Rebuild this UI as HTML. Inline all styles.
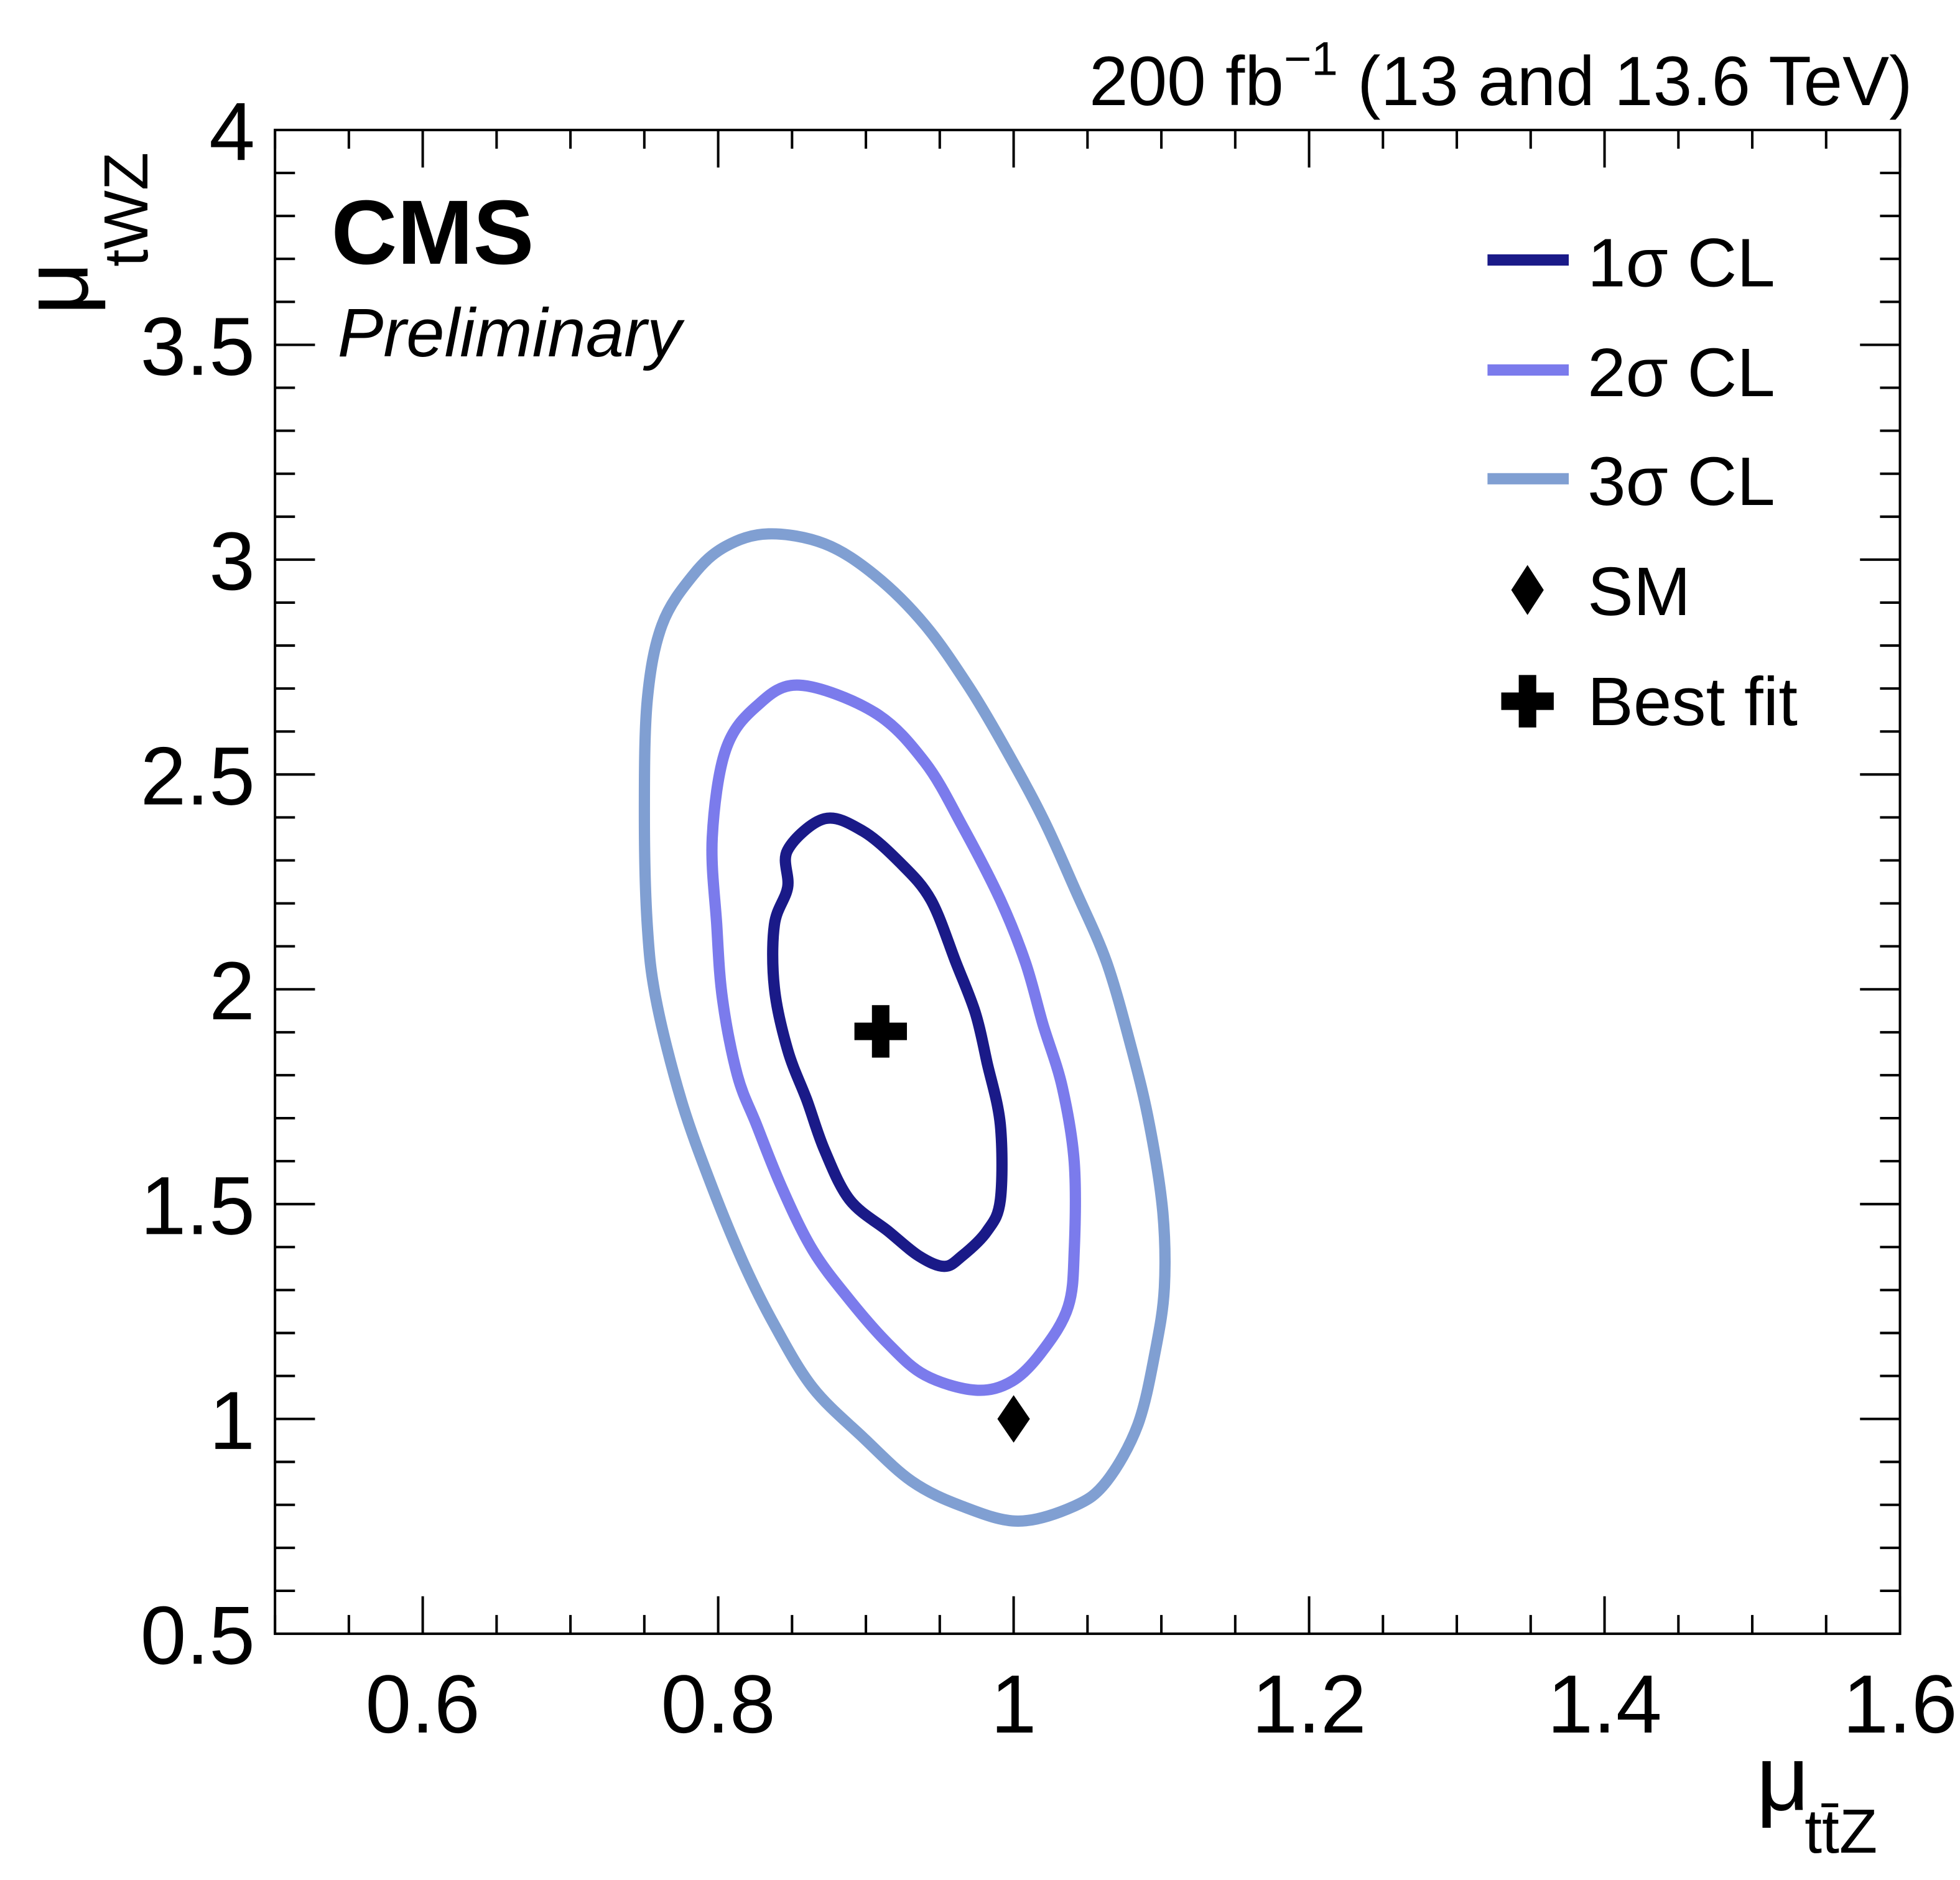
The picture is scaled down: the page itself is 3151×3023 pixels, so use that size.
<!DOCTYPE html>
<html><head><meta charset="utf-8"><style>
html,body{margin:0;padding:0;background:#fff}
svg{display:block;font-family:"Liberation Sans",sans-serif}
</style></head><body>
<svg id="chart" xmlns="http://www.w3.org/2000/svg" width="3151" height="3023" viewBox="0 0 1568 1504" preserveAspectRatio="none">
<rect x="0" y="0" width="1568" height="1504" fill="#fff"/>
<g id="ticks"></g>
<g id="contours"></g>
<rect x="220" y="104" width="1300" height="1203" fill="none" stroke="#000" stroke-width="2"/>
<g id="labels" font-size="66"></g>
<text x="1530" y="84" text-anchor="end" font-size="56">200 fb<tspan dy="-24" font-size="38">−1</tspan><tspan dy="24"> (13 and 13.6 TeV)</tspan></text>
<text x="265" y="211" font-size="73" font-weight="bold">CMS</text>
<text x="270" y="285" font-size="55" font-style="italic">Preliminary</text>
<text x="1405" y="1448" font-size="74">μ<tspan dx="-4" dy="34" font-size="50">tt̄Z</tspan></text>
<text transform="translate(70,252) rotate(-90)" font-size="74">μ<tspan dx="-4" dy="48" font-size="50">tWZ</tspan></text>
<g font-size="55">
<line x1="1190" y1="208" x2="1255" y2="208" stroke="#1a1a88" stroke-width="9"/>
<text x="1270" y="229">1σ CL</text>
<line x1="1190" y1="296" x2="1255" y2="296" stroke="#7b7bec" stroke-width="9"/>
<text x="1270" y="317">2σ CL</text>
<line x1="1190" y1="383" x2="1255" y2="383" stroke="#809fd2" stroke-width="9"/>
<text x="1270" y="404">3σ CL</text>
<path d="M1222,452 L1235,472 L1222,492 L1209,472 Z" fill="#000"/>
<text x="1270" y="492">SM</text>
<path d="M1215,540 h14 v14 h14 v14 h-14 v14 h-14 v-14 h-14 v-14 h14 Z" fill="#000"/>
<text x="1270" y="580">Best fit</text>
</g>
</svg>
<script>
const xTickValues=[0.6,0.8,1.0,1.2,1.4,1.6];
const xTickLabels=["0.6","0.8","1","1.2","1.4","1.6"];
const yTickValues=[0.5,1,1.5,2,2.5,3,3.5,4];
const yTickLabels=["0.5","1","1.5","2","2.5","3","3.5","4"];
const c1x=[0.872,0.898,0.923,0.944,0.961,0.974,0.982,0.991,0.991,0.982,0.965,0.953,0.936,0.915,0.889,0.872,0.860,0.847,0.838,0.838,0.847,0.847];
const c1y=[2.397,2.368,2.295,2.208,2.062,1.946,1.830,1.684,1.510,1.437,1.379,1.355,1.379,1.437,1.510,1.626,1.742,1.859,2.004,2.150,2.237,2.324];
const c2x=[0.855,0.906,0.940,0.965,0.991,1.008,1.020,1.033,1.041,1.041,1.037,1.020,0.999,0.974,0.940,0.915,0.889,0.864,0.843,0.826,0.813,0.803,0.799,0.796,0.805,0.826];
const c2y=[2.708,2.644,2.528,2.382,2.208,2.062,1.917,1.771,1.597,1.393,1.262,1.160,1.088,1.067,1.102,1.175,1.277,1.393,1.539,1.684,1.800,1.975,2.150,2.353,2.557,2.659];
const c3x=[0.834,0.872,0.906,0.940,0.970,0.995,1.020,1.041,1.063,1.080,1.092,1.101,1.102,1.096,1.084,1.063,1.041,1.003,0.965,0.931,0.898,0.864,0.838,0.817,0.796,0.775,0.758,0.752,0.750,0.752,0.762,0.783,0.805];
const c3y=[3.060,3.037,2.964,2.848,2.702,2.557,2.397,2.237,2.062,1.859,1.684,1.480,1.306,1.160,0.986,0.855,0.797,0.762,0.797,0.855,0.957,1.073,1.219,1.364,1.539,1.742,1.975,2.150,2.411,2.673,2.848,2.964,3.031];
const bestFit=[0.910,1.902];
const smPoint=[1.0,1.0];

const L=220,R=1520,T=104,B=1307;
const X=v=>L+(v-0.5)/1.1*(R-L);
const Y=v=>B-(v-0.5)/3.5*(B-T);
const NS="http://www.w3.org/2000/svg";
function mk(tag,attrs,parent){const e=document.createElementNS(NS,tag);for(const k in attrs)e.setAttribute(k,attrs[k]);parent.appendChild(e);return e;}
const tg=document.getElementById('ticks');
for(let i=0;i<=22;i++){const v=0.5+i*0.05;const px=X(v);const major=(i%4==2);const len=major?30:15;
 const t=mk('path',{d:'M'+px+','+B+'v-'+len+'M'+px+','+T+'v'+len,stroke:'#000','stroke-width':2,fill:'none'},tg);
 
 }
for(let i=0;i<=35;i++){const v=0.5+i*0.1;const py=Y(v);const major=i%5==0;const len=major?32:16;
 const t=mk('path',{d:'M'+L+','+py+'h'+len+'M'+R+','+py+'h-'+len,stroke:'#000','stroke-width':2,fill:'none'},tg);
 
 }
const lg=document.getElementById('labels');
xTickValues.forEach((v,i)=>{const t=mk('text',{x:X(v),y:1386,'text-anchor':'middle'},lg);t.textContent=xTickLabels[i];
 
 });
yTickValues.forEach((v,i)=>{const t=mk('text',{x:204,y:Y(v)+24,'text-anchor':'end'},lg);t.textContent=yTickLabels[i];
 
 });
const cg=document.getElementById('contours');
function smoothPath(xs,ys){const n=xs.length;const P=xs.map((x,i)=>[X(x),Y(ys[i])]);
 let d='M'+P[0][0].toFixed(1)+','+P[0][1].toFixed(1);
 for(let i=0;i<n;i++){const p0=P[(i-1+n)%n],p1=P[i],p2=P[(i+1)%n],p3=P[(i+2)%n];
  const c1=[p1[0]+(p2[0]-p0[0])/6,p1[1]+(p2[1]-p0[1])/6],c2=[p2[0]-(p3[0]-p1[0])/6,p2[1]-(p3[1]-p1[1])/6];
  d+='C'+c1[0].toFixed(1)+','+c1[1].toFixed(1)+' '+c2[0].toFixed(1)+','+c2[1].toFixed(1)+' '+p2[0].toFixed(1)+','+p2[1].toFixed(1);}
 return d+'Z';}
function contour(xs,ys,color,name){
 const p=mk('path',{d:smoothPath(xs,ys),fill:'none',stroke:color,'stroke-width':9,'stroke-linejoin':'round'},cg);
 
 }
contour(c3x,c3y,'#809fd2','contour-3sigma');
contour(c2x,c2y,'#7b7bec','contour-2sigma');
contour(c1x,c1y,'#1a1a88','contour-1sigma');
const bx=X(bestFit[0]),by=Y(bestFit[1]);
const bf=mk('path',{d:`M${bx-7},${by-21}h14v14h14v14h-14v14h-14v-14h-14v-14h14Z`,fill:'#000'},cg);


const sx=X(smPoint[0]),sy=Y(smPoint[1]);
const sm=mk('path',{d:`M${sx},${sy-19}L${sx+13},${sy}L${sx},${sy+19}L${sx-13},${sy}Z`,fill:'#000'},cg);


</script>
</body></html>
